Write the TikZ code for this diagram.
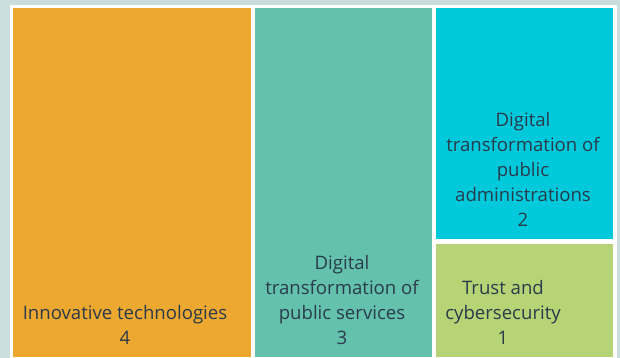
\documentclass[tikz,border=0pt]{standalone}
\usepackage{fontspec}
\setmainfont{Open Sans}
\definecolor{bgblue}{HTML}{C9DEDD}
\definecolor{tileorange}{HTML}{EDA830}
\definecolor{tileteal}{HTML}{64C2AC}
\definecolor{tilecyan}{HTML}{00C9DC}
\definecolor{tilegreen}{HTML}{B6D375}
\definecolor{textdark}{HTML}{2A3B4B}
\begin{document}
\begin{tikzpicture}[x=1pt,y=-1pt]
\tikzstyle{tile} = [rectangle, anchor=north west, inner sep=0pt, draw=none]
\tikzstyle{caption} = [align=center, inner sep=0pt, text=textdark, font=\fontsize{18.6}{25}\selectfont]

%background
\useasboundingbox (0,0) rectangle (620,358);
\fill [bgblue] (0,0) rectangle (620,358);
\node (panel) [tile, fill=white, minimum width=607pt, minimum height=353pt] at (10,5) {};

%tiles
\node (TI) [tile, fill=tileorange, minimum width=238pt, minimum height=349pt] at (13,8) {};
\node (TS) [tile, fill=tileteal, minimum width=177pt, minimum height=349pt] at (255,8) {};
\node (TA) [tile, fill=tilecyan, minimum width=177pt, minimum height=231pt] at (436,8) {};
\node (TC) [tile, fill=tilegreen, minimum width=177pt, minimum height=113pt] at (436,244) {};

%labels
\node (LI) [caption] at (125,325) {Innovative technologies\\4};
\node (LS) [caption] at (342,300) {Digital\\transformation of\\public services\\3};
\node (LA) [caption] at (523,169) {Digital\\transformation of\\public\\administrations\\2};
\node (LC) [caption] at (503,312.5) {Trust and\\cybersecurity\\1};
\end{tikzpicture}
\end{document}
